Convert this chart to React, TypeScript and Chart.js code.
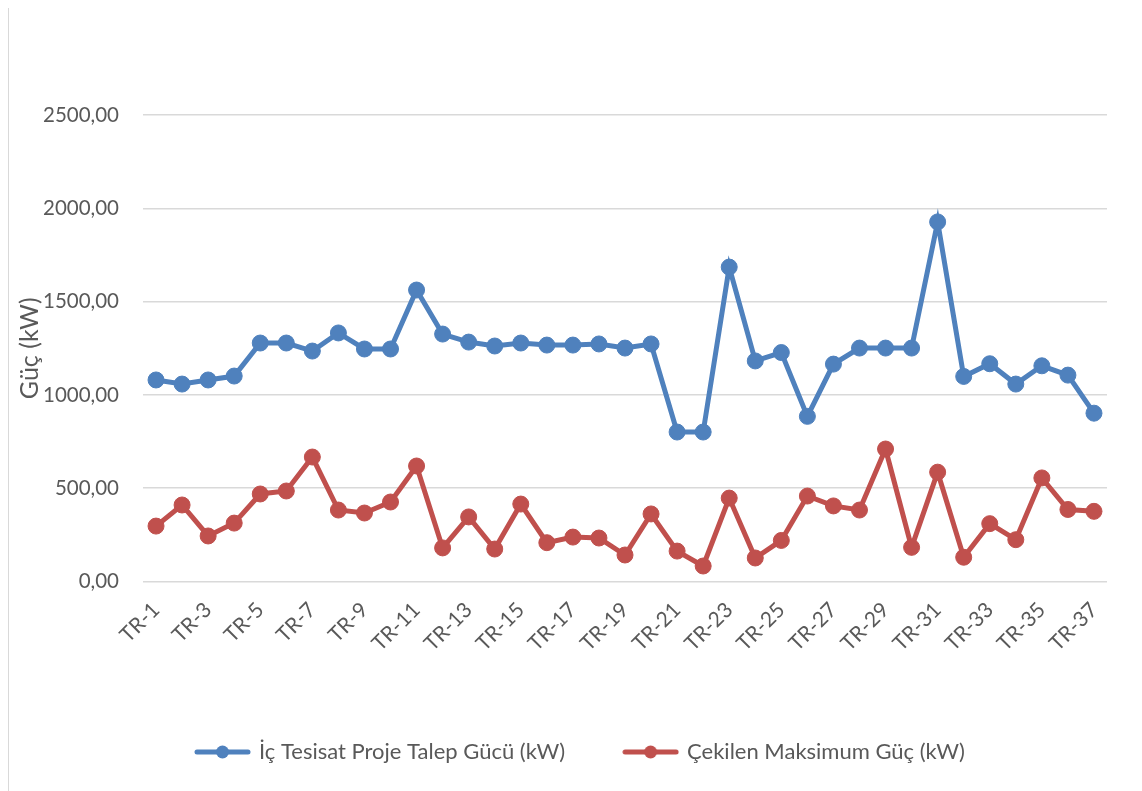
import React, { useEffect, useRef } from "react";
import { Chart, registerables } from "chart.js";

Chart.register(...registerables);

const categories: string[] = [
  "TR-1", "TR-2", "TR-3", "TR-4", "TR-5", "TR-6", "TR-7", "TR-8", "TR-9", "TR-10",
  "TR-11", "TR-12", "TR-13", "TR-14", "TR-15", "TR-16", "TR-17", "TR-18", "TR-19", "TR-20",
  "TR-21", "TR-22", "TR-23", "TR-24", "TR-25", "TR-26", "TR-27", "TR-28", "TR-29", "TR-30",
  "TR-31", "TR-32", "TR-33", "TR-34", "TR-35", "TR-36", "TR-37",
];

const talepGucu: number[] = [
  1080, 1058, 1080, 1101, 1278, 1278, 1235, 1332, 1246, 1246,
  1562, 1326, 1283, 1262, 1278, 1267, 1267, 1273, 1251, 1273,
  801, 801, 1685, 1182, 1227, 885, 1165, 1251, 1251, 1251,
  1927, 1099, 1167, 1058, 1156, 1106, 902,
];

const cekilenGuc: number[] = [
  297, 410, 244, 313, 469, 485, 667, 383, 367, 426,
  619, 180, 346, 174, 415, 208, 238, 233, 142, 362,
  163, 83, 447, 126, 220, 458, 405, 383, 710, 183,
  586, 130, 310, 224, 555, 386, 376,
];

const seriesNames: string[] = [
  "İç Tesisat Proje Talep Gücü (kW)",
  "Çekilen Maksimum Güç (kW)",
];
const yTicks: number[] = [0, 500, 1000, 1500, 2000, 2500];

const BLUE = "#4F81BD";
const RED = "#C0504D";
const TEXT = "#595959";
const FONT = "Lato, 'Liberation Sans', sans-serif";

function makeMarker(color: string): HTMLCanvasElement {
  const c = document.createElement("canvas");
  c.width = 57;
  c.height = 16;
  const x = c.getContext("2d")!;
  x.strokeStyle = color;
  x.lineWidth = 5;
  x.lineCap = "round";
  x.beginPath();
  x.moveTo(3, 8);
  x.lineTo(54, 8);
  x.stroke();
  x.fillStyle = color;
  x.beginPath();
  x.arc(28.5, 8, 6.5, 0, Math.PI * 2);
  x.fill();
  return c;
}

const legendShift = {
  id: "legendShift",
  afterLayout(chart: any) {
    const lg = chart.legend;
    if (lg) {
      lg.left += 23;
      lg.right += 23;
    }
  },
};

export default function App() {
  const ref = useRef<HTMLCanvasElement | null>(null);

  useEffect(() => {
    document.body.style.overflow = "hidden";
    document.documentElement.style.overflow = "hidden";
    if (!ref.current) return;
    const markers = [makeMarker(BLUE), makeMarker(RED)];
    const chart = new Chart(ref.current, {
      type: "line",
      plugins: [legendShift],
      data: {
        labels: categories,
        datasets: [
          {
            label: seriesNames[0],
            data: talepGucu,
            borderColor: BLUE,
            backgroundColor: BLUE,
            pointBackgroundColor: BLUE,
            pointBorderColor: BLUE,
            borderWidth: 5,
            pointRadius: 8,
            pointBorderWidth: 1,
            tension: 0,
          },
          {
            label: seriesNames[1],
            data: cekilenGuc,
            borderColor: RED,
            backgroundColor: RED,
            pointBackgroundColor: RED,
            pointBorderColor: RED,
            borderWidth: 5,
            pointRadius: 8,
            pointBorderWidth: 1,
            tension: 0,
          },
        ],
      },
      options: {
        responsive: false,
        animation: false,
        layout: { padding: { top: 112, right: 35, bottom: 18, left: 0 } },
        plugins: {
          tooltip: { enabled: false },
          legend: {
            position: "bottom",
            labels: {
              usePointStyle: true,
              pointStyleWidth: 51,
              padding: 60,
              color: TEXT,
              font: { family: FONT, size: 22 },
              generateLabels: (ch: any) => {
                const items = (Chart.defaults.plugins.legend.labels as any).generateLabels(ch);
                return items.map((it: any, i: number) => ({ ...it, pointStyle: markers[i] }));
              },
            },
          },
        },
        scales: {
          x: {
            type: "category",
            offset: true,
            grid: { display: false, drawTicks: false },
            border: { display: false },
            afterFit: (s: any) => {
              s.height = 99.5;
            },
            ticks: {
              autoSkip: false,
              maxRotation: 45,
              minRotation: 45,
              padding: 16,
              color: TEXT,
              font: { family: FONT, size: 21 },
              callback: function (this: any, val: any, idx: number) {
                return idx % 2 === 0 ? categories[idx] : "";
              },
            },
          },
          y: {
            min: 0,
            max: 2500,
            afterBuildTicks: (s: any) => {
              s.ticks = yTicks.map((v) => ({ value: v }));
            },
            afterFit: (s: any) => {
              s.width = 134;
            },
            grid: { color: "#D9D9D9", lineWidth: 1.5, drawTicks: false },
            border: { display: false },
            title: {
              display: true,
              text: "Güç (kW)",
              color: TEXT,
              font: { family: FONT, size: 25 },
              padding: { top: 6, bottom: 0 },
            },
            ticks: {
              padding: 24,
              color: TEXT,
              font: { family: FONT, size: 20.5 },
              callback: (v: any) => Number(v).toFixed(2).replace(".", ","),
            },
          },
        },
      },
    });
    return () => chart.destroy();
  }, []);

  return (
    <div
      style={{
        position: "relative",
        width: 1133,
        height: 788,
        marginTop: -6,
        borderLeft: "1px solid #D9D9D9",
        borderTop: "1px solid #D9D9D9",
        background: "#fff",
      }}
    >
      <canvas ref={ref} width={1133} height={788} style={{ display: "block" }} />
    </div>
  );
}
